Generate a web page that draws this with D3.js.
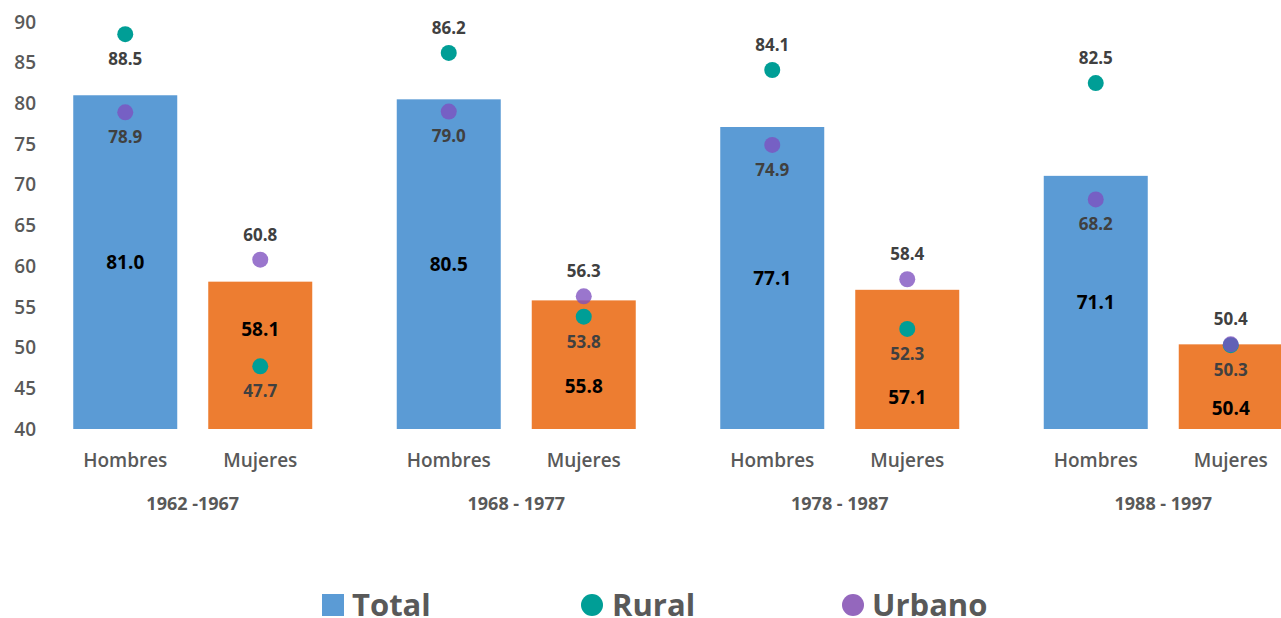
<html lang="es">
  <head>
    <meta charset="utf-8">
    <script src="https://d3js.org/d3.v7.js"></script>
    <style>
      body { margin: 0; background: #fff; }
      text { font-family: "Open Sans", "DejaVu Sans", sans-serif; }
    </style>
  </head>
  <body>
    <svg id="chart" width="1281" height="618"></svg>
    <script>
      // data
      var periods = ["1962 -1967", "1968 - 1977", "1978 - 1987", "1988 - 1997"];
      var sexes = ["Hombres", "Mujeres"];
      var total = [81.0, 58.1, 80.5, 55.8, 77.1, 57.1, 71.1, 50.4];
      var rural = [88.5, 47.7, 86.2, 53.8, 84.1, 52.3, 82.5, 50.3];
      var urbano = [78.9, 60.8, 79.0, 56.3, 74.9, 58.4, 68.2, 50.4];
      var yTicks = [40, 45, 50, 55, 60, 65, 70, 75, 80, 85, 90];

      // label placement (above / below the dot, where the total label sits)
      var ruralSide = [1, 1, -1, 1, -1, 1, -1, 1];
      var urbanoSide = [1, -1, 1, -1, 1, -1, 1, -1];
      var totalLabelAt = [null, 52.2, null, 45.3, null, 43.9, null, 42.5];

      var svg = d3.select("svg#chart");

      var y = d3.scaleLinear().domain([40, 90]).range([429, 22]);

      var xGroup = d3.scaleBand().domain(periods).range([31, 1325]);
      var xSex = d3.scaleBand().domain(sexes).range([-135, 135]);

      var barW = 104;

      var rows = [];
      periods.forEach(function(p, i) {
        sexes.forEach(function(s, j) {
          var k = i * 2 + j;
          rows.push({
            period: p, sex: s,
            cx: xGroup(p) + xGroup.bandwidth() / 2 + xSex(s) + xSex.bandwidth() / 2,
            total: total[k], rural: rural[k], urbano: urbano[k],
            rSide: ruralSide[k], uSide: urbanoSide[k], tAt: totalLabelAt[k]
          });
        });
      });

      // y axis labels
      svg.append("g").selectAll("text")
        .data(yTicks)
        .enter().append("text")
        .attr("x", 36)
        .attr("y", d => y(d))
        .attr("dy", "0.35em")
        .attr("text-anchor", "end")
        .attr("font-size", 19)
        .attr("font-weight", 600)
        .attr("fill", "#595959")
        .text(d => d);

      // bars
      svg.append("g").selectAll("rect")
        .data(rows)
        .enter().append("rect")
        .attr("x", d => d.cx - barW / 2)
        .attr("y", d => y(d.total))
        .attr("width", barW)
        .attr("height", d => y(40) - y(d.total))
        .attr("fill", d => d.sex == "Hombres" ? "#5B9BD5" : "#ED7D31");

      // total labels
      svg.append("g").selectAll("text")
        .data(rows)
        .enter().append("text")
        .attr("x", d => d.cx)
        .attr("y", d => d.tAt == null ? y((d.total + 40) / 2) : y(d.tAt))
        .attr("dy", "0.35em")
        .attr("text-anchor", "middle")
        .attr("font-size", 19)
        .attr("font-weight", 700)
        .attr("fill", "#000")
        .text(d => d3.format(".1f")(d.total));

      // rural dots
      svg.append("g").selectAll("circle")
        .data(rows)
        .enter().append("circle")
        .attr("cx", d => d.cx)
        .attr("cy", d => y(d.rural))
        .attr("r", 8)
        .attr("fill", "#009E96");

      // urbano dots
      svg.append("g").selectAll("circle")
        .data(rows)
        .enter().append("circle")
        .attr("cx", d => d.cx)
        .attr("cy", d => y(d.urbano))
        .attr("r", 8)
        .attr("fill", "#7E4FBF")
        .attr("fill-opacity", 0.78);

      function dotLabels(key, side) {
        svg.append("g").selectAll("text")
          .data(rows)
          .enter().append("text")
          .attr("x", d => d.cx)
          .attr("y", d => y(d[key]) + d[side] * 25)
          .attr("dy", "0.35em")
          .attr("text-anchor", "middle")
          .attr("font-size", 17)
          .attr("font-weight", 700)
          .attr("fill", "#404040")
          .text(d => d3.format(".1f")(d[key]));
      }
      dotLabels("rural", "rSide");
      dotLabels("urbano", "uSide");

      // category labels
      svg.append("g").selectAll("text")
        .data(rows)
        .enter().append("text")
        .attr("x", d => d.cx)
        .attr("y", 460)
        .attr("dy", "0.35em")
        .attr("text-anchor", "middle")
        .attr("font-size", 19)
        .attr("font-weight", 600)
        .attr("fill", "#595959")
        .text(d => d.sex);

      svg.append("g").selectAll("text")
        .data(periods)
        .enter().append("text")
        .attr("x", d => xGroup(d) + xGroup.bandwidth() / 2)
        .attr("y", 504)
        .attr("dy", "0.35em")
        .attr("text-anchor", "middle")
        .attr("font-size", 18)
        .attr("font-weight", 700)
        .attr("fill", "#595959")
        .text(d => d);

      // legend
      var legend = svg.append("g").attr("transform", "translate(0, 605)");
      legend.append("rect")
        .attr("x", 322).attr("y", -11).attr("width", 22).attr("height", 22)
        .attr("fill", "#5B9BD5");
      legend.append("circle")
        .attr("cx", 592).attr("cy", 0).attr("r", 11)
        .attr("fill", "#009E96");
      legend.append("circle")
        .attr("cx", 853).attr("cy", 0).attr("r", 11)
        .attr("fill", "#9467BD");
      legend.selectAll("text")
        .data([["Total", 352], ["Rural", 612], ["Urbano", 872]])
        .enter().append("text")
        .attr("x", d => d[1])
        .attr("y", 0)
        .attr("dy", "0.36em")
        .attr("font-size", 31)
        .attr("font-weight", 700)
        .attr("fill", "#595959")
        .text(d => d[0]);
    </script>
  </body>
</html>
